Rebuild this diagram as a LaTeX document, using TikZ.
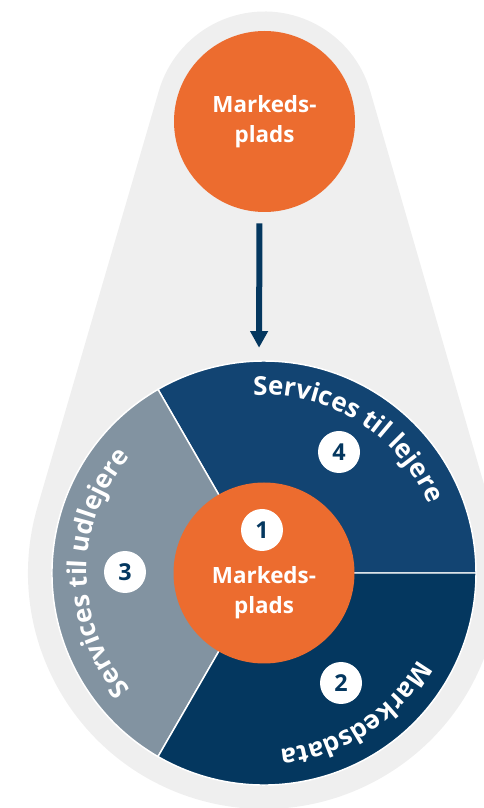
\documentclass[tikz,border=0pt]{standalone}
\usepackage{fontspec}
\setmainfont{Open Sans}
\usepackage{xcolor}
\usetikzlibrary{calc, arrows.meta, positioning, decorations.text}

\definecolor{mpOrange}{HTML}{EC6C2F}
\definecolor{mpBlue}{HTML}{124472}
\definecolor{mpNavy}{HTML}{04375F}
\definecolor{mpSlate}{HTML}{8293A1}
\definecolor{mpBack}{HTML}{EFEFEF}

\begin{document}
\begin{tikzpicture}[x=0.75pt, y=0.75pt]
    % Block styles
    \tikzstyle{disc} = [circle, fill=mpOrange, text=white, align=center, minimum size=135.75pt, inner sep=0pt, font=\bfseries\fontsize{16.8}{22.5}\selectfont]
    \tikzstyle{badge} = [circle, fill=white, text=mpNavy, minimum size=31.5pt, inner sep=0pt, font=\bfseries\fontsize{17.5}{17.5}\selectfont]
    \tikzstyle{segment} = [draw=white, line width=1.1pt]
    \tikzset{curved/.style={decorate, decoration={text along path, text align=center, text color=white, text={|\bfseries\fontsize{19.5}{19.5}\selectfont|#1}}}}

    \useasboundingbox (0,0) rectangle (484,808);
    \clip (0,0) rectangle (484,808);

    % Centres of the two circles
    \coordinate (cap) at (264.5,686.5);
    \coordinate (hub) at (264,235);

    % Grey backdrop
    \fill[mpBack] (cap) ++(16.2:110) arc[start angle=16.2, end angle=163.8, radius=110]
        -- ($(hub)+(163.8:236)$) arc[start angle=163.8, end angle=376.2, radius=236] -- cycle;

    % Pie segments
    \filldraw[segment, fill=mpBlue] (hub) -- ++(0:212) arc[start angle=0, end angle=120, radius=212] -- cycle;
    \filldraw[segment, fill=mpSlate] (hub) -- ++(120:212) arc[start angle=120, end angle=240, radius=212] -- cycle;
    \filldraw[segment, fill=mpNavy] (hub) -- ++(240:212) arc[start angle=240, end angle=360, radius=212] -- cycle;
    \node[circle, minimum size=318pt, inner sep=0pt] (pie) at (hub) {};

    % Curved labels
    \path[curved={Services til lejere}] (hub) ++(118:178) arc[start angle=118, end angle=-2, radius=178];
    \path[curved={Services til udlejere}] (hub) ++(240:177) arc[start angle=240, end angle=120, radius=177];
    \path[curved={Markedsdata}] (hub) ++(363:177) arc[start angle=363, end angle=243, radius=177];

    % Discs
    \node[disc] (market) at (cap) {Markeds-\\plads};
    \node[disc] (core) at (hub) {};
    \node[text=white, align=center, font=\bfseries\fontsize{16.8}{22.5}\selectfont] (corelabel) at (264,215) {Markeds-\\plads};

    % Numbers
    \node[badge] (one) at (262,278) {1};
    \node[badge] (two) at (341,125) {2};
    \node[badge] (three) at (125,236) {3};
    \node[badge] (four) at (339,356) {4};

    % Connection
    \draw[mpNavy, line width=4.5pt, -{Triangle[width=12.75pt, length=12.5pt]}, shorten <=8.25pt, shorten >=9.75pt]
        ([xshift=-3.75pt]market.south) -- ([xshift=-3.75pt]pie.north);
\end{tikzpicture}
\end{document}
